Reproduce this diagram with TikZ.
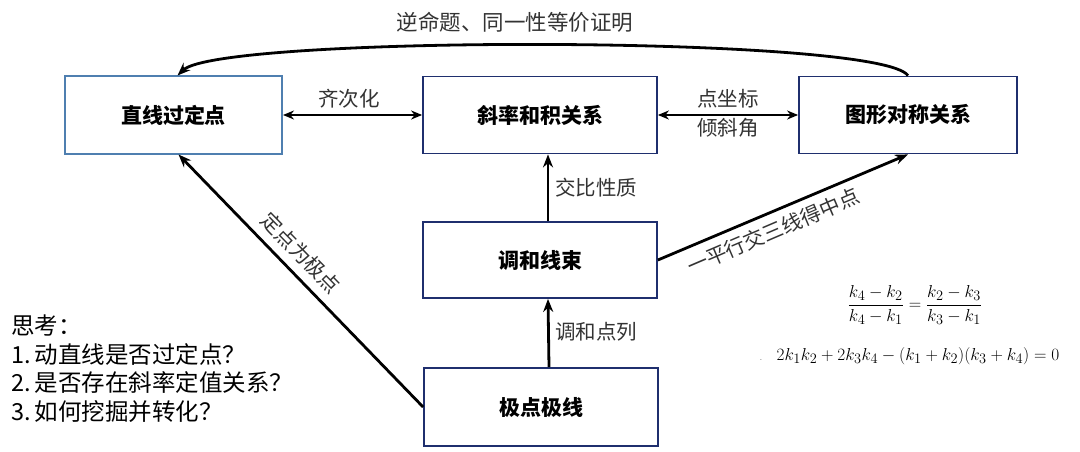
\documentclass[tikz,border=0pt]{standalone}
\usepackage{fontspec}
\usepackage{amsmath}
\newfontfamily\cjk{Noto Sans CJK SC}
\usetikzlibrary{arrows.meta}
\definecolor{navy}{HTML}{1F2F6E}
\definecolor{steel}{HTML}{4F7FB0}
\definecolor{lbl}{HTML}{333333}
\tikzset{
  box/.style={draw=navy, line width=1.8pt, minimum width=234pt, minimum height=77pt,
    inner sep=0pt, font=\cjk\bfseries\fontsize{21}{25}\selectfont, text=black},
  lab/.style={font=\cjk\fontsize{20.5}{24}\selectfont, text=lbl, inner sep=0pt},
  arr/.style={line width=2.8pt, -{Stealth[length=13pt,width=10pt]}},
  dbl/.style={line width=2pt, {Stealth[length=11pt,width=9pt]}-{Stealth[length=11pt,width=9pt]}}
}
\begin{document}
\begin{tikzpicture}[x=1pt,y=-1pt]
\useasboundingbox (0,0) rectangle (1080,452);
\fill[white] (0,0) rectangle (1080,452);
% boxes
\node[box, draw=steel, line width=2pt, minimum width=217pt] (b1) at (173.5,115) {直线过定点};
\node[box] (b2) at (540,115) {斜率和积关系};
\node[box, minimum width=218pt] (b3) at (908,115) {图形对称关系};
\node[box, minimum height=76pt] (b4) at (540,260) {调和线束};
\node[box, minimum height=78pt] (b5) at (541,407) {极点极线};
% connectors
\draw[dbl] (b1.east) -- (b2.west);
\draw[dbl] (b2.east) -- (b3.west);
\draw[arr] ([xshift=8pt]b4.north) -- ([xshift=8pt]b2.south);
\draw[arr] ([xshift=8pt]b5.north) -- ([xshift=8pt]b4.south);
\draw[arr] (b5.west) -- ([xshift=5pt]b1.south);
\draw[arr] (b4.east) -- (b3.south);
\draw[arr] (b3.north) .. controls (880,35) and (220,35) .. ([xshift=4pt]b1.north);
% labels
\node[lab] (l1) at (349,99) {齐次化};
\node[lab] (l2) at (728,99) {点坐标};
\node[lab] (l3) at (728,128) {倾斜角};
\node[lab, anchor=west] (l4) at (555,188) {交比性质};
\node[lab, anchor=west] (l5) at (555,332) {调和点列};
\node[lab, font=\cjk\fontsize{21.5}{24}\selectfont] (l6) at (515,22) {逆命题、同一性等价证明};
\node[lab, rotate=-45.7] (l7) at (301,253) {定点为极点};
\node[lab, rotate=23.2] (l8) at (773,231) {一平行交三线得中点};
% thinking text
\node[anchor=north west, align=left, inner sep=0pt, font=\cjk\fontsize{23.5}{28.4}\selectfont] (t) at (11,315)
 {思考：\\1.\,动直线是否过定点？\\2.\,是否存在斜率定值关系？\\3.\,如何挖掘并转化？};
% formulas
\node[inner sep=0pt, font=\fontsize{19}{22}\selectfont] (f1) at (915,305)
 {$\dfrac{k_4-k_2}{k_4-k_1}=\dfrac{k_2-k_3}{k_3-k_1}$};
\node[inner sep=0pt, font=\fontsize{19}{22}\selectfont] (f2) at (918,356)
 {$2k_1k_2+2k_3k_4-(k_1+k_2)(k_3+k_4)=0$};
\node[inner sep=0pt, font=\fontsize{8}{10}\selectfont] (dot) at (761,360) {.};
\end{tikzpicture}
\end{document}
